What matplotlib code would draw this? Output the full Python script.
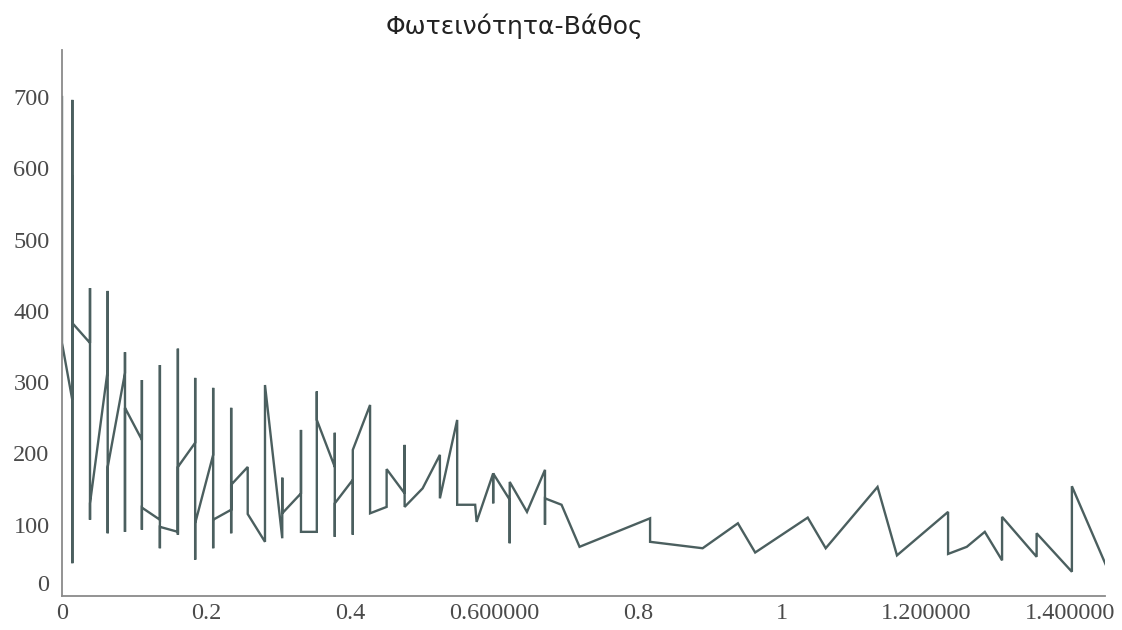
import matplotlib
matplotlib.use("Agg")
import matplotlib.pyplot as plt

title = "Φωτεινότητα-Βάθος"

# depth (x) and luminosity (y), traced in drawing order
depth = [0.0, 0.0, 0.0143, 0.0143, 0.0143, 0.0143, 0.0143,
         0.0389, 0.0389, 0.0389, 0.0389,
         0.0635, 0.0635, 0.0635, 0.0635,
         0.0875, 0.0875, 0.0875, 0.0875,
         0.111, 0.111, 0.111, 0.111,
         0.136, 0.136, 0.136, 0.136,
         0.161, 0.161, 0.161, 0.161,
         0.185, 0.185, 0.185, 0.185,
         0.210, 0.210, 0.210, 0.210,
         0.235, 0.235, 0.235, 0.235,
         0.258, 0.258,
         0.282, 0.282,
         0.306, 0.306, 0.306, 0.306,
         0.332, 0.332, 0.332,
         0.354, 0.354, 0.354,
         0.379, 0.379, 0.379, 0.379,
         0.404, 0.404, 0.404,
         0.428, 0.428,
         0.451, 0.451,
         0.476, 0.476, 0.476,
         0.501,
         0.525, 0.525,
         0.549, 0.549,
         0.574, 0.576,
         0.599, 0.599, 0.599,
         0.622, 0.622, 0.622,
         0.646,
         0.671, 0.671, 0.671,
         0.694, 0.719,
         0.817, 0.817,
         0.890, 0.939, 0.963, 1.036, 1.061, 1.133, 1.160,
         1.231, 1.231, 1.257, 1.282,
         1.306, 1.306,
         1.354, 1.354,
         1.403, 1.403, 1.450]

luminosity = [700, 355, 275, 696, 46, 590, 383,
              355, 432, 107, 130,
              317, 428, 88, 181,
              313, 342, 90, 264,
              219, 303, 93, 124,
              107, 324, 67, 97,
              90, 347, 86, 181,
              215, 306, 51, 102,
              198, 292, 67, 107,
              121, 264, 88, 156,
              181, 115,
              76, 296,
              81, 116, 166, 116,
              144, 233, 90,
              90, 287, 247,
              181, 229, 83, 130,
              163, 86, 205,
              268, 116,
              125, 178,
              144, 212, 125,
              151,
              198, 137,
              247, 128,
              128, 104,
              172, 130, 172,
              135, 74, 160,
              118,
              177, 100, 137,
              128, 69,
              109, 76,
              67, 102, 61, 110, 67, 153, 57,
              118, 59, 69, 90,
              50, 111,
              55, 88,
              34, 154, 44]

xticks = [0, 0.2, 0.4, 0.6, 0.8, 1.0, 1.2, 1.4]
xtick_labels = ["0", "0.2", "0.4", "0.600000", "0.8", "1", "1.200000", "1.400000"]
yticks = [0, 100, 200, 300, 400, 500, 600, 700]
ytick_labels = [str(v) for v in yticks]

fig = plt.figure(figsize=(11.22, 6.30), dpi=100)
ax = fig.add_axes([62 / 1122, 1 - 596 / 630, (1105 - 62) / 1122, (596 - 50) / 630])

ax.plot(depth, luminosity, color="#4b5f5f", linewidth=1.7, solid_joinstyle="miter")

ax.set_xlim(0, 1.449)
ax.set_ylim(0, 766)

for side in ["top", "right"]:
    ax.spines[side].set_visible(False)
for side in ["left", "bottom"]:
    ax.spines[side].set_color("#8a8a8a")
    ax.spines[side].set_linewidth(1.3)

ax.set_xticks(xticks, xtick_labels)
ax.set_yticks(yticks, ytick_labels)
ax.tick_params(axis="both", length=0, labelsize=17.5, labelcolor="#4a4a4a")
ax.tick_params(axis="x", pad=5)
ax.tick_params(axis="y", pad=9)
for lab in ax.get_xticklabels() + ax.get_yticklabels():
    lab.set_fontfamily("Liberation Serif")
ax.get_yticklabels()[0].set_verticalalignment("bottom")

fig.text(514 / 1122, 1 - 26 / 630, title, ha="center", va="center",
         fontsize=18, family="DejaVu Sans", color="#222222")

fig.savefig("out.png", dpi=100, facecolor="white")
